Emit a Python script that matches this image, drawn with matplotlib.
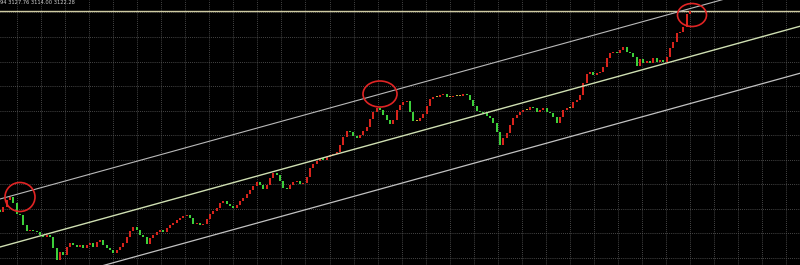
import numpy as np
import matplotlib
matplotlib.use("Agg")
import matplotlib.pyplot as plt
from matplotlib.patches import Ellipse

# Daily closes (one value per bar)
closes = [
    2320, 2340, 2368, 2380, 2356, 2312, 2308, 2268, 2244, 2248, 2244, 2240,
    2228, 2220, 2228, 2220, 2176, 2128, 2160, 2148, 2180, 2196, 2188, 2180,
    2188, 2176, 2188, 2196, 2180, 2200, 2208, 2188, 2176, 2168, 2156, 2168,
    2180, 2196, 2220, 2244, 2260, 2248, 2228, 2220, 2192, 2216, 2228, 2240,
    2248, 2240, 2256, 2268, 2276, 2288, 2296, 2304, 2308, 2296, 2272, 2276,
    2268, 2272, 2292, 2312, 2324, 2336, 2356, 2364, 2352, 2344, 2336, 2348,
    2364, 2376, 2392, 2408, 2424, 2440, 2428, 2412, 2428, 2456, 2476, 2468,
    2444, 2416, 2412, 2428, 2440, 2444, 2432, 2436, 2460, 2496, 2512, 2524,
    2536, 2528, 2540, 2548, 2552, 2560, 2588, 2620, 2644, 2640, 2624, 2616,
    2628, 2644, 2660, 2692, 2720, 2736, 2728, 2708, 2688, 2672, 2688, 2728,
    2748, 2760, 2764, 2720, 2684, 2684, 2696, 2712, 2744, 2772, 2780, 2780,
    2788, 2792, 2780, 2780, 2784, 2784, 2784, 2792, 2788, 2768, 2744, 2724,
    2720, 2716, 2704, 2696, 2676, 2640, 2588, 2616, 2636, 2668, 2696, 2708,
    2720, 2728, 2728, 2740, 2736, 2720, 2728, 2736, 2720, 2716, 2700, 2676,
    2700, 2728, 2736, 2736, 2760, 2768, 2788, 2836, 2872, 2880, 2868, 2876,
    2880, 2900, 2936, 2956, 2960, 2956, 2968, 2980, 2960, 2956, 2940, 2904,
    2932, 2916, 2924, 2916, 2936, 2920, 2928, 2920, 2940, 2976, 3000, 3036,
    3040, 3060, 3112, 3124,
]
first_open = 2330

# Regression channel: (bar, price) anchors for each line
channel_upper = [(0, 2372), (240, 3255)]
channel_mid = [(0, 2180), (240, 3063)]
channel_lower = [(0, 1992), (240, 2875)]

# Marked turning points: (bar, price, width in bars, height in price)
marks = [(6.0, 2380, 9.0, 116), (114.0, 2792, 10.2, 104), (207.6, 3108, 8.7, 92)]

header = "94 3127.76 3114.00 3122.28"

BG = "#000000"
UP = "#d8241c"
DOWN = "#3ccf3a"
FLAT = "#c9b43a"

closes = np.asarray(closes, dtype=float)
opens = np.concatenate([[first_open], closes[:-1]])
idx = np.arange(len(closes))

fig = plt.figure(figsize=(8.0, 2.65), dpi=100, facecolor=BG)
ax = fig.add_axes([0, 0, 1, 1])
ax.set_facecolor(BG)
ax.set_xlim(0, 240)
ax.set_ylim(2108, 3168)
for s in ax.spines.values():
    s.set_visible(False)
ax.tick_params(left=False, bottom=False, labelleft=False, labelbottom=False)

# dotted grid
ax.set_xticks(np.arange(5.1, 240, 7.212))
ax.set_yticks(np.arange(3020 + 98.2, 2100, -98.2))
ax.grid(True, color="#5e5e5e", linestyle=(0, (1, 1.5)), linewidth=0.6)
ax.set_axisbelow(True)

# candle bodies
delta = closes - opens
colors = np.where(np.abs(delta) < 4, FLAT, np.where(delta > 0, UP, DOWN))
heights = np.where(np.abs(delta) < 4, 5.0, delta)
ax.bar(idx, heights, bottom=opens, width=0.62, color=colors, linewidth=0, zorder=3)

# channel lines
for pts, col, lw in [(channel_upper, "#b9b9b9", 0.8),
                     (channel_mid, "#cfdfb2", 1.0),
                     (channel_lower, "#c2c2c2", 0.9)]:
    (x0, y0), (x1, y1) = pts
    ax.plot([x0, x1], [y0, y1], color=col, lw=lw, zorder=4)

# last price line
ax.axhline(closes[-1], color="#cfcba2", lw=1.0, zorder=2)

# circled highs
for cx, cy, w, h in marks:
    ax.add_patch(Ellipse((cx, cy), w, h, fill=False, edgecolor="#e02424",
                         lw=1.2, zorder=5))

ax.text(0.0, 0.992, header, transform=ax.transAxes, ha="left", va="center",
        color="#d0d0d0", fontsize=3.7, family="DejaVu Sans", zorder=6)

fig.savefig("out.png", dpi=100, facecolor=BG)
